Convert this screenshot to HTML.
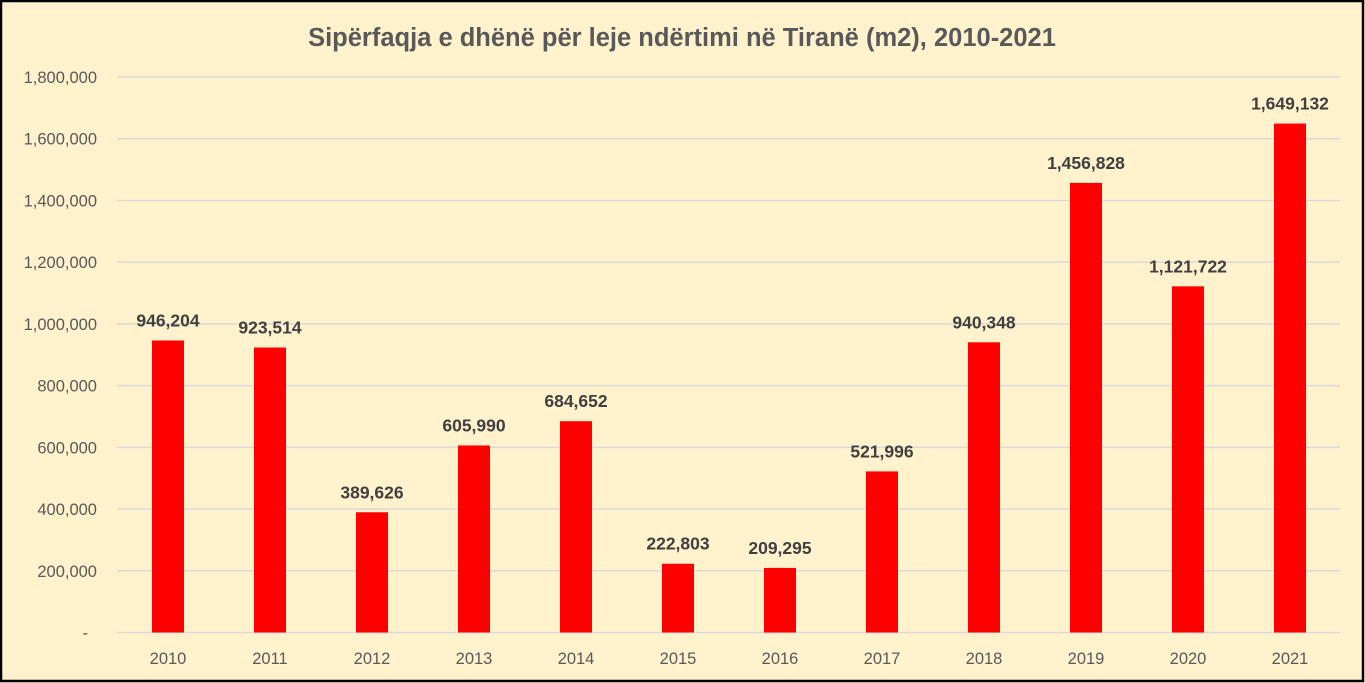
<!DOCTYPE html>
<html><head><meta charset="utf-8"><style>
html,body{margin:0;padding:0;background:#FFF2CC;}
svg{display:block;font-family:"Liberation Sans",Calibri,sans-serif;}
</style></head><body>
<svg width="1365" height="683" viewBox="0 0 1365 683" xmlns="http://www.w3.org/2000/svg">
<rect x="0" y="0" width="1365" height="683" fill="#FFF2CC"/>
<rect x="1" y="1" width="1362" height="680" fill="none" stroke="#000" stroke-width="2.5"/>
<text x="682" y="46" text-anchor="middle" font-size="25.5" font-weight="bold" fill="#595959">Sipërfaqja e dhënë për leje ndërtimi në Tiranë (m2), 2010-2021</text>
<g id="grid" stroke="#D9D9D9" stroke-width="1.5"></g>
<g id="ylab" font-size="16.5" fill="#595959" text-anchor="end"></g>
<g id="bars"></g>
</svg>
<script>
(function(){
var Y0=632.5,YT=77,MX=1800000;
function Y(v){return Y0-(Y0-YT)*v/MX;}
function fmt(v){return String(v).replace(/\B(?=(\d{3})+(?!\d))/g,',');}
var g=document.getElementById('grid'),yl=document.getElementById('ylab'),b=document.getElementById('bars');
var ns="http://www.w3.org/2000/svg";
function el(p,t,a,txt){var e=document.createElementNS(ns,t);for(var k in a)e.setAttribute(k,a[k]);if(txt!=null)e.textContent=txt;p.appendChild(e);return e;}
for(var i=0;i<=9;i++){var v=i*200000,y=Y(v);
el(g,'line',{x1:117,x2:1340,y1:y,y2:y});
el(yl,'text',{x:i==0?88:97,y:y+6},i==0?'-':fmt(v));}
var d=[946204,923514,389626,605990,684652,222803,209295,521996,940348,1456828,1121722,1649132];
d.forEach(function(v,i){var cx=168+102*i,y=Y(v);
el(b,'rect',{x:cx-16,y:y,width:32,height:Y0-y,fill:'#FF0000'});
el(b,'text',{x:cx,y:y-14,'text-anchor':'middle','font-size':17.5,'font-weight':'bold',fill:'#404040'},fmt(v));
el(b,'text',{x:cx,y:664,'text-anchor':'middle','font-size':16.5,fill:'#595959'},String(2010+i));});
})();
</script>
</body></html>
